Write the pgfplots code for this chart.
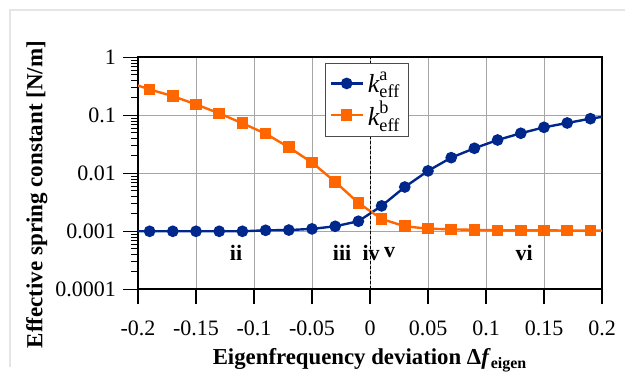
\documentclass[border=0pt]{standalone}
\usepackage{fontspec}
\setmainfont{Liberation Serif}
\usepackage{amsmath}
\usepackage{pgfplots}
\pgfplotsset{compat=1.18}
\definecolor{cblue}{RGB}{0,40,140}
\definecolor{corange}{RGB}{255,102,0}
\begin{document}
\begin{tikzpicture}
\path[use as bounding box] (0,0) rectangle (312.5pt,189pt);
\draw[gray!20, line width=1pt] (312.5pt,184pt) -- (5pt,184pt) -- (5pt,5.5pt);
\begin{axis}[
  at={(69pt,44.35pt)}, anchor=south west,
  scale only axis, width=232pt, height=116pt,
  xmin=-0.2, xmax=0.2, ymode=log, ymin=1e-4, ymax=1,
  xtick={-0.2,-0.15,-0.1,-0.05,0,0.05,0.1,0.15,0.2},
  xticklabels={-0.2,-0.15,-0.1,-0.05,0,0.05,0.1,0.15,0.2},
  ytick={1e-4,1e-3,1e-2,1e-1,1},
  yticklabels={0.0001,0.001,0.01,0.1,1},
  tick pos=left, tick align=outside,
  major tick length=7.5pt, minor tick length=3.5pt,
  axis line style={line width=1pt},
  every tick/.style={black, line width=0.6pt},
  minor tick style={line width=0.4pt},
  grid=major, major grid style={gray!70, line width=0.4pt},
  ticklabel style={font=\fontsize{11}{13}\selectfont},
  xticklabel style={yshift=-5pt},
  xlabel={\textbf{Eigenfrequency deviation Δ\textit{f}}$_{\text{\bfseries eigen}}$},
  ylabel={\textbf{Effective spring constant [N/m]}},
  xlabel style={font=\fontsize{11.4}{13}\selectfont, at={(axis description cs:0.5,-0.326)}, anchor=base},
  ylabel style={font=\fontsize{11.5}{13}\selectfont, at={(axis description cs:-0.218,0.408)}, anchor=center},
  legend style={at={(axis description cs:0.403,0.974)}, anchor=north west,
    draw=black!70, line width=0.5pt, font=\fontsize{13}{15}\selectfont,
    row sep=-1pt, inner sep=2pt},
  legend cell align=left,
  legend image code/.code={\draw[#1] (0pt,0pt) -- (8pt,0pt) plot coordinates {(8pt,0pt)} -- (16pt,0pt);},
  clip=true,
]
\addplot[cblue, line width=1.2pt, mark=*, mark size=2.3pt] coordinates {
(-0.21,0.001)(-0.19,0.001)(-0.17,0.001)(-0.15,0.001)(-0.13,0.001)(-0.11,0.001)
(-0.09,0.00104)(-0.07,0.00105)(-0.05,0.0011)(-0.03,0.00122)(-0.01,0.00149)
(0.01,0.00274)(0.03,0.0058)(0.05,0.011)(0.07,0.0186)(0.09,0.027)
(0.11,0.0375)(0.13,0.049)(0.15,0.062)(0.17,0.0737)(0.19,0.0874)(0.21,0.101)};
\addlegendentry{$\textit{k}^{\text{a}}_{\text{eff}}$}
\addplot[corange, line width=1.2pt, mark=square*, mark size=2.3pt] coordinates {
(-0.21,0.38)(-0.19,0.279)(-0.17,0.214)(-0.15,0.154)(-0.13,0.108)(-0.11,0.0728)
(-0.09,0.0482)(-0.07,0.0281)(-0.05,0.0153)(-0.03,0.00714)(-0.01,0.00308)
(0.01,0.00163)(0.03,0.00122)(0.05,0.00111)(0.07,0.00108)(0.09,0.00106)
(0.11,0.00104)(0.13,0.00104)(0.15,0.00104)(0.17,0.00103)(0.19,0.00103)(0.21,0.00103)};
\addlegendentry{$\textit{k}^{\text{b}}_{\text{eff}}$}
\draw[black, line width=0.5pt, dash pattern=on 1.5pt off 1pt] (axis cs:0,1e-4) -- (axis cs:0,1);
\node[font=\bfseries\fontsize{11}{13}\selectfont] at (axis cs:-0.1155,4.3e-4) {ii};
\node[font=\bfseries\fontsize{11}{13}\selectfont] at (axis cs:-0.024,4.3e-4) {iii};
\node[font=\bfseries\fontsize{11}{13}\selectfont] at (axis cs:0.001,4.3e-4) {iv};
\node[font=\bfseries\fontsize{11}{13}\selectfont] at (axis cs:0.017,4.3e-4) {v};
\node[font=\bfseries\fontsize{11}{13}\selectfont] at (axis cs:0.133,4.3e-4) {vi};
\end{axis}
\end{tikzpicture}
\end{document}
